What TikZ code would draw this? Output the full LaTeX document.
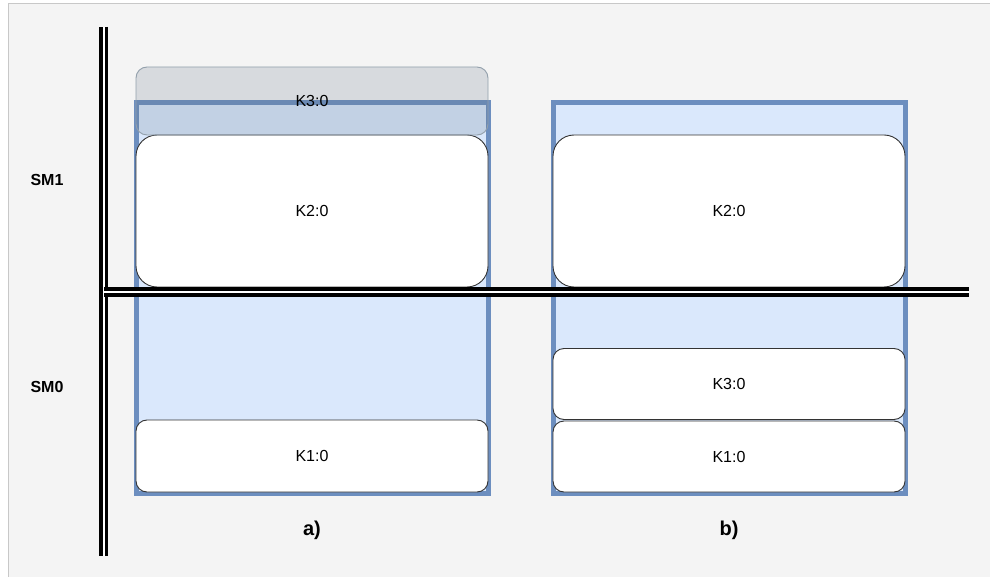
\documentclass[tikz,border=0pt]{standalone}
\usepackage{fontspec}
\setsansfont{Liberation Sans}
\usetikzlibrary{positioning}

\definecolor{panel}{HTML}{F4F4F4}
\definecolor{panelline}{HTML}{C8C8C8}
\definecolor{smfill}{HTML}{DAE8FC}
\definecolor{smline}{HTML}{6C8EBF}
\definecolor{ghost}{HTML}{647687}

\begin{document}
\begin{tikzpicture}[x=1pt, y=-1pt,
  smbox/.style={rectangle, draw=smline, fill=smfill, line width=5pt, minimum width=352pt, minimum height=390pt, inner sep=0pt},
  kern/.style={rectangle, draw=black!80, fill=white, line width=0.9pt, rounded corners=11pt, minimum width=352pt, inner sep=0pt, font=\sffamily\fontsize{16}{19}\selectfont},
  bigkern/.style={kern, rounded corners=21pt},
  waiting/.style={kern, draw=ghost!70, fill=ghost, fill opacity=0.2, text opacity=1},
  lab/.style={font=\sffamily\bfseries\fontsize{16}{19}\selectfont},
  sublab/.style={font=\sffamily\bfseries\fontsize{20}{24}\selectfont},
  bar/.style={draw=black, line width=3.5pt, double=white, double distance=2.5pt}]
  \useasboundingbox (0,0) rectangle (990,577);
  \fill[white] (0,0) rectangle (990,577);
  \draw[panelline, fill=panel, line width=1pt] (8.5,3.5) rectangle (995,582);
  % SM labels
  \node[lab] (sm1) at (47,180) {SM1};
  \node[lab] (sm0) at (47,387) {SM0};
  % (a) K3 still waiting above the SM
  \node[smbox] (sma) at (312,298) {};
  \node[bigkern, minimum height=152pt] (ka2) at (312,211) {K2:0};
  \node[kern, minimum height=72pt] (ka1) at (312,456) {K1:0};
  \node[waiting, minimum height=68pt] (ka3) at (312,101) {K3:0};
  \node[sublab] (suba) at (312,530) {a)};
  % (b) K3 moved down next to K1
  \node[smbox] (smb) at (729,298) {};
  \node[bigkern, minimum height=152pt] (kb2) at (729,211) {K2:0};
  \node[kern, minimum height=71pt] (kb3) at (729,384) {K3:0};
  \node[kern, minimum height=71pt] (kb1) at (729,456.5) {K1:0};
  \node[sublab] (subb) at (729,530) {b)};
  % axes
  \coordinate (ytop) at (103.5,27);
  \coordinate (ybot) at (103.5,556);
  \coordinate (xleft) at (104,292);
  \coordinate (xright) at (969,292);
  \draw[bar, double distance=2pt] (ytop) -- (ybot);
  \draw[bar] (xleft) -- (xright);
\end{tikzpicture}
\end{document}
